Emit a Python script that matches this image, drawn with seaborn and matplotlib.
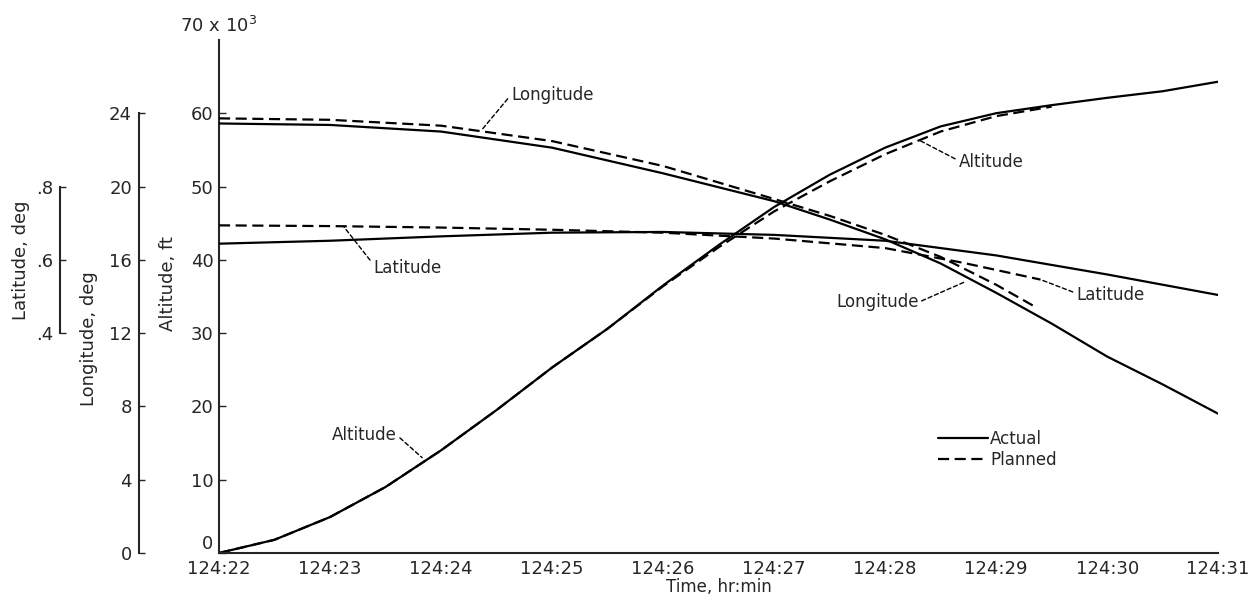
import matplotlib
matplotlib.use("Agg")
import matplotlib.pyplot as plt
import seaborn as sns
from matplotlib.lines import Line2D

# time in minutes after 124:22
t_alt_actual = [0, 0.5, 1, 1.5, 2, 2.5, 3, 3.5, 4, 4.5, 5, 5.5, 6, 6.5, 7, 7.5, 8, 8.5, 9]
alt_actual = [0, 1.8, 4.9, 9.0, 14.0, 19.5, 25.3, 30.6, 36.5, 42.0, 47.2, 51.6, 55.3, 58.2, 60.0, 61.1, 62.1, 63.0, 64.3]
t_alt_planned = [0, 0.5, 1, 1.5, 2, 2.5, 3, 3.5, 4, 4.5, 5, 5.5, 6, 6.5, 7, 7.5]
alt_planned = [0, 1.8, 4.9, 9.0, 14.0, 19.5, 25.3, 30.6, 36.4, 41.7, 46.6, 50.7, 54.4, 57.5, 59.6, 60.9]

t_lon_actual = [0, 1, 2, 3, 4, 5, 5.5, 6, 6.5, 7, 7.5, 8, 8.5, 9]
lon_actual = [23.44, 23.36, 23.0, 22.12, 20.72, 19.2, 18.2, 17.12, 15.8, 14.2, 12.52, 10.72, 9.2, 7.6]
t_lon_planned = [0, 1, 2, 3, 4, 5, 5.5, 6, 6.5, 7, 7.35]
lon_planned = [23.72, 23.64, 23.32, 22.48, 21.12, 19.32, 18.4, 17.36, 16.16, 14.64, 13.44]

t_lat_actual = [0, 1, 2, 3, 4, 5, 6, 7, 8, 9]
lat_actual = [0.644, 0.652, 0.664, 0.674, 0.676, 0.668, 0.652, 0.612, 0.56, 0.504]
t_lat_planned = [0, 1, 2, 3, 4, 5, 6, 6.7, 7.4]
lat_planned = [0.694, 0.692, 0.688, 0.682, 0.674, 0.658, 0.632, 0.592, 0.546]

time_labels = ["124:22", "124:23", "124:24", "124:25", "124:26",
               "124:27", "124:28", "124:29", "124:30", "124:31"]
alt_ticks = [0, 10, 20, 30, 40, 50, 60]
lon_ticks = [0, 4, 8, 12, 16, 20, 24]
lat_ticks = [0.4, 0.6, 0.8]
lat_labels = [".4", ".6", ".8"]

sns.set_style("white")
plt.rcParams["font.family"] = ["DejaVu Sans"]
plt.rcParams["axes.linewidth"] = 1.5

fig = plt.figure(figsize=(12.6, 6.05), dpi=100)
ax = fig.add_axes([0.1738, 0.086, 0.793, 0.848])
ax_lon = ax.twinx()
ax_lat = ax.twinx()

solid = dict(color="black", lw=1.6)
dashed = dict(color="black", lw=1.6, linestyle=(0, (5, 2.5)))

sns.lineplot(x=t_alt_actual, y=alt_actual, ax=ax, **solid)
sns.lineplot(x=t_alt_planned, y=alt_planned, ax=ax, **dashed)
sns.lineplot(x=t_lon_actual, y=lon_actual, ax=ax_lon, **solid)
sns.lineplot(x=t_lon_planned, y=lon_planned, ax=ax_lon, **dashed)
sns.lineplot(x=t_lat_actual, y=lat_actual, ax=ax_lat, **solid)
sns.lineplot(x=t_lat_planned, y=lat_planned, ax=ax_lat, **dashed)

# main axis (altitude)
ax.set_xlim(0, 9)
ax.set_ylim(0, 70)
ax.set_xticks(range(10))
ax.set_xticklabels(time_labels)
ax.set_yticks(alt_ticks)
ax.tick_params(axis="both", direction="in", length=5, width=1, labelsize=13, pad=4)
ax.tick_params(axis="x", pad=5)
ax.get_yticklabels()[0].set_va("bottom")
for s in ["top", "right"]:
    ax.spines[s].set_visible(False)
ax.set_xlabel("Time, hr:min", fontsize=12, labelpad=0)
ax.set_ylabel("Altitude, ft", fontsize=13)
ax.yaxis.set_label_coords(-0.042, 0.526)
ax.text(0, 70.5, "70 x 10$^3$", ha="center", va="bottom", fontsize=13)

# longitude axis
ax_lon.set_ylim(0, 28)
for s in ["top", "right", "bottom"]:
    ax_lon.spines[s].set_visible(False)
ax_lon.spines["left"].set_visible(True)
ax_lon.spines["left"].set_position(("outward", 57.6))
ax_lon.spines["left"].set_bounds(0, 24)
ax_lon.yaxis.set_ticks_position("left")
ax_lon.yaxis.set_label_position("left")
ax_lon.set_yticks(lon_ticks)
ax_lon.tick_params(axis="y", direction="in", length=4, width=1, labelsize=13, pad=5)
ax_lon.set_ylabel("Longitude, deg", fontsize=13)
ax_lon.yaxis.set_label_coords(-0.121, 0.418)

# latitude axis
ax_lat.set_ylim(-0.2, 1.2)
for s in ["top", "right", "bottom"]:
    ax_lat.spines[s].set_visible(False)
ax_lat.spines["left"].set_visible(True)
ax_lat.spines["left"].set_position(("outward", 114.5))
ax_lat.spines["left"].set_bounds(0.4, 0.8)
ax_lat.yaxis.set_ticks_position("left")
ax_lat.yaxis.set_label_position("left")
ax_lat.set_yticks(lat_ticks)
ax_lat.set_yticklabels(lat_labels)
ax_lat.tick_params(axis="y", direction="in", length=4, width=1, labelsize=13, pad=5)
ax_lat.set_ylabel("Latitude, deg", fontsize=13)
ax_lat.yaxis.set_label_coords(-0.189, 0.571)

# callouts
lead = dict(arrowstyle="-", color="black", lw=1, linestyle=(0, (3, 2)), shrinkA=0, shrinkB=0)
notes = [
    ("Longitude", (2.36, 57.6), (2.63, 62.5), "left", (0, 0.5)),
    ("Latitude", (1.12, 44.6), (1.39, 38.9), "left", (0, 0.7)),
    ("Altitude", (6.31, 56.3), (6.66, 53.3), "left", (0, 0.6)),
    ("Longitude", (6.72, 37.0), (6.30, 34.2), "right", (1, 0.5)),
    ("Latitude", (7.40, 37.3), (7.72, 35.2), "left", (0, 0.6)),
    ("Altitude", (1.83, 13.0), (1.60, 16.1), "right", (1, 0.5)),
]
for txt, xy, xyt, ha, rp in notes:
    ax.annotate(txt, xy=xy, xytext=xyt, ha=ha, va="center", fontsize=12,
                arrowprops=dict(lead, relpos=rp))

handles = [Line2D([], [], **solid), Line2D([], [], **dashed)]
ax.legend(handles, ["Actual", "Planned"], loc="upper left", bbox_to_anchor=(0.72, 0.24),
          frameon=False, fontsize=12, handlelength=3, handletextpad=0.1,
          labelspacing=0.2, borderpad=0, borderaxespad=0)

fig.savefig("out.png", dpi=100)
